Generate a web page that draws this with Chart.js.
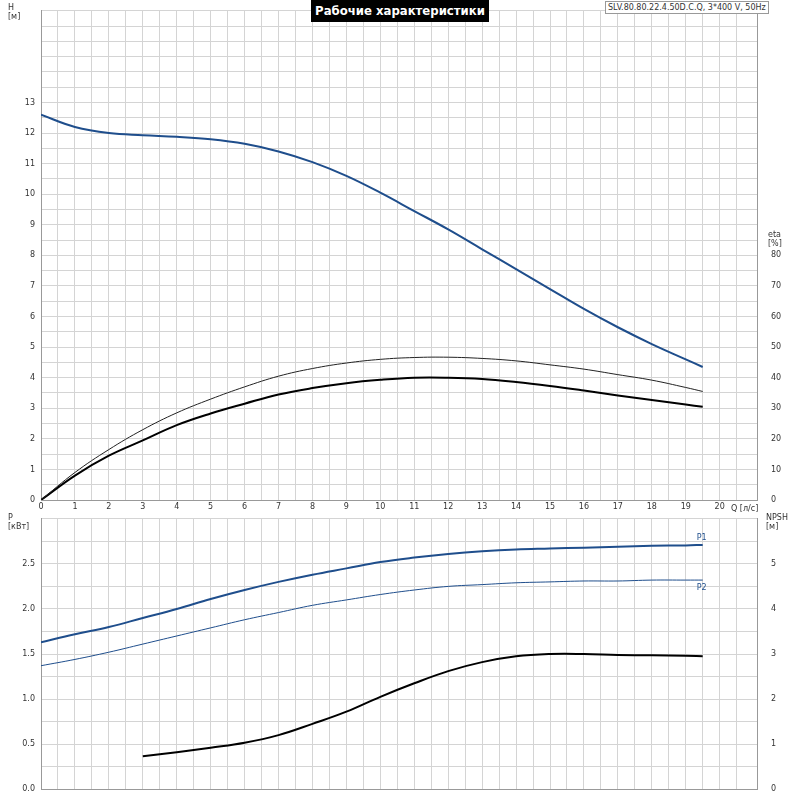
<!DOCTYPE html>
<html><head><meta charset="utf-8">
<script src="https://cdn.jsdelivr.net/npm/chart.js@4"></script>
<style>
body{margin:0;background:#fff;font-family:"DejaVu Sans",sans-serif;}
#wrap{position:relative;width:800px;height:800px;}
canvas{position:absolute;left:0;}
.t{position:absolute;font-size:8px;color:#333;line-height:9px;white-space:nowrap;}
</style></head><body>
<div id="wrap">
<canvas id="top" style="top:0px" width="800" height="512"></canvas>
<canvas id="bot" style="top:508px" width="800" height="292"></canvas>
<div style="position:absolute;left:311px;top:0;width:178px;height:22px;background:#000;color:#fff;font:bold 13px 'Liberation Sans Narrow','DejaVu Sans Condensed',sans-serif;text-align:center;line-height:22px;white-space:nowrap">Рабочие характеристики</div>
<div class="t" style="left:605px;top:1px;border:1px solid #999;padding:1px 2px;background:#fff">SLV.80.80.22.4.50D.C.Q, 3*400 V, 50Hz</div>
<div class="t" style="left:8px;top:3px">H<br>[м]</div>
<div class="t" style="left:768px;top:230px">eta<br>[%]</div>
<div class="t" style="left:731px;top:504px">Q [л/с]</div>
<div class="t" style="left:8px;top:513px">P<br>[кВт]</div>
<div class="t" style="left:766px;top:513px">NPSH<br>[м]</div>
</div>
<script>
const q = [0,1,2,3,4,5,6,7,8,9,10,11,12,13,14,15,16,17,18,19,19.5];
const head = [12.6,12.2,12.0,11.93,11.88,11.8,11.65,11.4,11.05,10.6,10.05,9.45,8.85,8.2,7.55,6.9,6.25,5.65,5.1,4.6,4.35];
const etaThin = [0,9,16.5,23,28.5,33,37,40.5,43,44.8,46,46.6,46.7,46.3,45.5,44.2,42.8,41,39.2,36.8,35.5];
const etaThick = [0,8,14.5,19.5,24.5,28.3,31.5,34.5,36.6,38.2,39.3,40,40,39.6,38.6,37.3,35.8,34.2,32.7,31.2,30.5];
const p1 = [1.63,1.72,1.80,1.90,2.0,2.11,2.21,2.30,2.38,2.45,2.52,2.57,2.61,2.64,2.66,2.67,2.68,2.69,2.70,2.705,2.71];
const p2 = [1.37,1.44,1.52,1.61,1.70,1.79,1.88,1.96,2.04,2.10,2.16,2.21,2.25,2.27,2.29,2.30,2.31,2.31,2.32,2.32,2.32];
const qNpsh = [3,4,5,6,7,8,9,10,11,12,13,14,15,16,17,18,19,19.5];
const npsh = [0.73,0.82,0.92,1.03,1.2,1.45,1.72,2.05,2.35,2.62,2.82,2.95,3.0,3.0,2.98,2.97,2.96,2.95];

const pts = (xs, ys) => xs.map((x,i)=>({x:x,y:ys[i]}));
const blue = '#1f4e8c', grid = '#d4d4d4', tickC = '#333';
const tf = {size:8, family:'DejaVu Sans'};
function fixW(w){return a=>{a.width=w;};}
function fixH(h){return a=>{a.height=h;};}
const line = (data, color, w, yID) => ({data:data, borderColor:color, borderWidth:w, pointRadius:0, tension:0.4, fill:false, yAxisID:yID});

const labelsPlugin = {id:'lbl', afterDatasetsDraw(c){
  if(c.canvas.id!=='bot') return;
  const ctx=c.ctx, x=c.scales.x;
  ctx.save(); ctx.font='8px DejaVu Sans'; ctx.fillStyle=blue;
  ctx.fillText('P1', x.getPixelForValue(19.5)-6, c.scales.y.getPixelForValue(2.71)-5);
  ctx.fillText('P2', x.getPixelForValue(19.5)-6, c.scales.y.getPixelForValue(2.32)+10);
  ctx.restore();
}};

new Chart(document.getElementById('top'), {
  type:'line',
  data:{datasets:[
    line(pts(q,head), blue, 2, 'y'),
    line(pts(q,etaThin), '#222', 1, 'y2'),
    line(pts(q,etaThick), '#000', 2, 'y2')
  ]},
  options:{responsive:false, animation:false, layout:{padding:{top:-6,bottom:0}},
    plugins:{legend:{display:false}, tooltip:{enabled:false}},
    scales:{
      x:{type:'linear', min:0, max:21.1, afterFit:fixH(12),
        grid:{color:grid, drawTicks:false}, border:{color:'#999'},
        ticks:{stepSize:0.5, autoSkip:false, color:tickC, font:tf, padding:2, maxRotation:0,
          callback:v=> (Number.isInteger(v) && v<=20 ? v : '')}},
      y:{min:0, max:16, afterFit:fixW(41), grid:{color:grid, drawTicks:false}, border:{color:'#999'},
        ticks:{stepSize:0.5, autoSkip:false, color:tickC, font:tf, padding:6,
          callback:v=> Number.isInteger(v)&&v<=13 ? v : ''}},
      y2:{position:'right', min:0, max:160, afterFit:fixW(43), grid:{display:false}, border:{color:'#999'},
        ticks:{stepSize:10, autoSkip:false, color:tickC, font:tf, padding:6,
          callback:v=> v<=80 ? v : ''}}
    }}
});

new Chart(document.getElementById('bot'), {
  type:'line',
  data:{datasets:[
    line(pts(q,p1), blue, 2, 'y'),
    line(pts(q,p2), blue, 1, 'y'),
    line(pts(qNpsh,npsh), '#000', 2, 'y2')
  ]},
  options:{responsive:false, animation:false, layout:{padding:{top:4,bottom:6}},
    plugins:{legend:{display:false}, tooltip:{enabled:false}},
    scales:{
      x:{type:'linear', min:0, max:21.1, afterFit:fixH(0),
        grid:{color:grid, drawTicks:false}, border:{color:'#999'},
        ticks:{stepSize:0.5, display:false}},
      y:{min:0, max:3, afterFit:fixW(41), grid:{color:grid, drawTicks:false}, border:{color:'#999'},
        ticks:{stepSize:0.25, autoSkip:false, color:tickC, font:tf, padding:6,
          callback:v=> (v*2)%1===0 && v<=2.5 ? v.toFixed(1) : ''}},
      y2:{position:'right', min:0, max:6, afterFit:fixW(43), grid:{display:false}, border:{color:'#999'},
        ticks:{stepSize:1, autoSkip:false, color:tickC, font:tf, padding:6,
          callback:v=> v<=5 ? v : ''}}
    }},
  plugins:[labelsPlugin]
});
</script>
</body></html>
